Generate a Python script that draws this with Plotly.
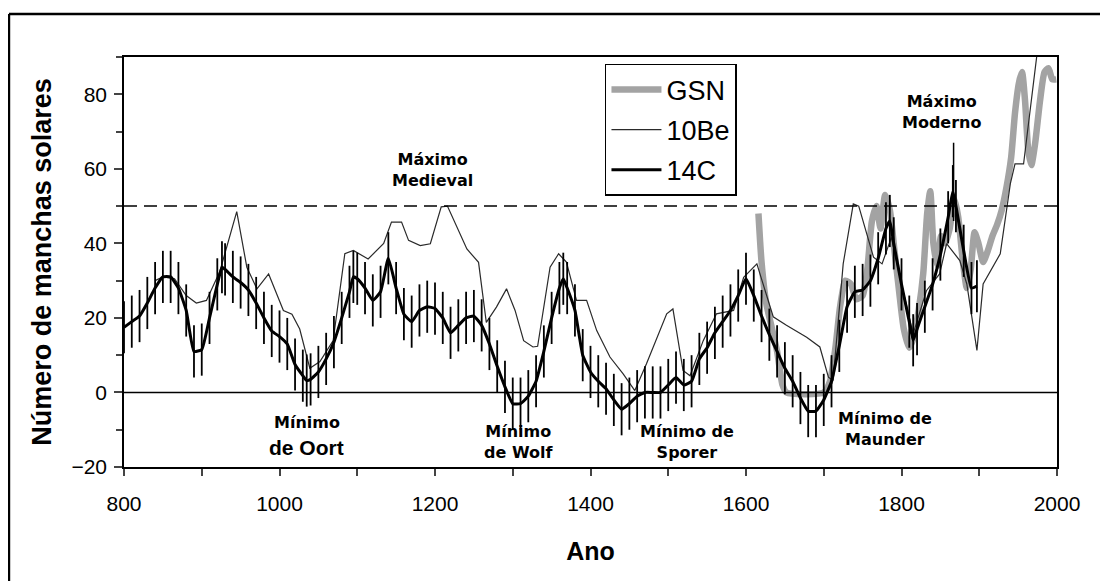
import plotly.graph_objects as go

# ---------------- data ----------------
c14_years = [800, 810, 820, 830, 840, 850, 860, 870, 880, 890, 900, 910, 920, 926, 930, 940, 950, 960, 970, 980,
             990, 1000, 1010, 1020, 1030, 1035, 1040, 1050, 1060, 1070, 1080, 1090, 1095, 1100, 1110, 1120, 1130,
             1140, 1150, 1160, 1170, 1180, 1190, 1200, 1210, 1220, 1230, 1240, 1250, 1260, 1270, 1280, 1290, 1300,
             1310, 1320, 1330, 1340, 1350, 1360, 1365, 1370, 1380, 1390, 1400, 1410, 1420, 1430, 1440, 1450, 1460,
             1470, 1480, 1490, 1500, 1510, 1520, 1530, 1540, 1550, 1560, 1570, 1580, 1590, 1600, 1610, 1620, 1630,
             1640, 1650, 1660, 1670, 1680, 1690, 1700, 1710, 1720, 1730, 1740, 1750, 1760, 1770, 1780, 1785, 1790,
             1800, 1810, 1815, 1820, 1830, 1840, 1850, 1860, 1866, 1870, 1880, 1890, 1897]
c14_values = [17.5, 19, 20.5, 24, 28, 31, 31, 28, 22, 11, 11.5, 20, 29, 33.6, 33, 31, 29.5, 27.5, 24, 20,
              16.5, 15, 13, 7.5, 4.5, 3.2, 3.5, 5.5, 9, 13.5, 20, 27, 31, 30.5, 28, 24.7, 27,
              36, 28, 21, 19, 22, 23, 22.5, 20, 16, 18, 20, 20.5, 18, 13, 7, 1.5, -3,
              -3, -1, 3, 11, 20, 28, 30.5, 28, 22, 10, 5.5, 3, 1, -2, -4.5, -3, -1,
              0, 0, 0, 2, 4, 2, 3, 9, 12, 16, 19, 22, 26, 30.5, 26, 20.5, 15.5,
              11, 6.5, 3, -1.5, -5, -5, -2, 3, 12.5, 23, 27, 27.5, 30, 36, 44, 46, 40,
              29, 19, 14, 17, 23, 29, 37, 47, 54, 50, 38, 28, 28.5]
c14_error = 7

be10_years = [840, 850, 865, 880, 893, 906, 923, 945, 958, 971, 986, 1005, 1016, 1026, 1039, 1052, 1069, 1084,
              1095, 1114, 1134, 1144, 1157, 1166, 1181, 1194, 1208, 1216, 1241, 1256, 1266, 1279, 1292, 1303,
              1314, 1326, 1332, 1348, 1359, 1369, 1382, 1395, 1408, 1425, 1442, 1457, 1472, 1489, 1498, 1506,
              1519, 1528, 1545, 1562, 1584, 1597, 1614, 1635, 1652, 1678, 1695, 1706, 1712, 1725, 1738, 1745,
              1764, 1775, 1787, 1798, 1815, 1832, 1849, 1858, 1875, 1884, 1897, 1905, 1927, 1940, 1946, 1957, 1975]
be10_values = [30, 31, 30.5, 26, 24, 24.7, 32.3, 48.5, 33.6, 27.8, 31.8, 22, 21, 17, 6.5, 8.3, 13.9, 37.2,
               38.1, 35.8, 40, 45.7, 45.7, 40.8, 39.4, 39.9, 49.8, 50, 38.5, 34.9, 18.8, 22.9, 27.8, 22,
               13.9, 12.2, 12.4, 33.6, 37.2, 35, 24.7, 24.7, 16.6, 9.5, 5, 0.5, 7.7, 16.6, 21.1, 22.4,
               5.9, 4.5, 13.9, 21.1, 22, 30.9, 34.5, 20.3, 18, 14.8, 12.2, 4.1, 3.2, 34.5, 50.6, 50,
               36.3, 34.5, 41.6, 30.9, 15.7, 27.3, 31.8, 39.9, 35.4, 29.1, 11.3, 29.1, 37.2, 56, 61.3, 61.3, 92]

gsn_years = [1616, 1620, 1626, 1633, 1640, 1647, 1652, 1700, 1708, 1715, 1721, 1728, 1735, 1742, 1750, 1756,
             1762, 1768, 1773, 1779, 1785, 1791, 1797, 1803, 1810, 1816, 1822, 1828, 1833, 1837, 1841, 1846,
             1851, 1856, 1862, 1868, 1873, 1879, 1884, 1889, 1894, 1899, 1905, 1911, 1917, 1923, 1929, 1935,
             1941, 1946, 1951, 1955, 1959, 1963, 1967, 1972, 1978, 1984, 1989, 1994, 1999]
gsn_values = [48, 35, 24, 17.5, 11, 2, 0, 0, 3, 12, 23, 30, 29, 25, 26, 33,
              46, 50, 44, 53, 49, 38, 27, 17, 12, 15, 22, 32, 48, 54, 40, 34,
              42, 40, 44, 52, 47, 35, 28, 33, 43, 40, 35, 38, 42, 45, 49, 55,
              63, 75, 83, 86, 78, 65, 61, 67, 78, 86, 87, 84, 84]

x_ticks = [800, 1000, 1200, 1400, 1600, 1800, 2000]
y_ticks = [-20, 0, 20, 40, 60, 80]
threshold = 50

# ---------------- figure ----------------
fig = go.Figure()

fig.add_trace(go.Scatter(
    x=gsn_years, y=gsn_values, name="GSN", mode="lines", legendgroup="g1",
    line=dict(color="#a3a3a3", width=6.5, shape="spline", smoothing=0.6),
))
fig.add_trace(go.Scatter(
    x=be10_years, y=be10_values, name="10Be", mode="lines", legendgroup="g2",
    line=dict(color="#2a2a2a", width=1.2),
))
fig.add_trace(go.Scatter(
    x=c14_years, y=c14_values, name="14C", mode="lines", legendgroup="g3",
    line=dict(color="black", width=3, shape="spline", smoothing=0.4),
    error_y=dict(type="constant", value=c14_error, color="black", thickness=1.8, width=0),
))

# reference lines
fig.add_hline(y=0, line=dict(color="black", width=1.5))
fig.add_hline(y=threshold, line=dict(color="black", width=1.5, dash="13px,7px"))
# pointer of "Máximo Moderno"
fig.add_shape(type="line", x0=1867, x1=1867, y0=46, y1=67, line=dict(color="black", width=1.5))

# outer frame (top and left edges visible in reference)
fig.add_shape(type="line", xref="paper", yref="paper", x0=-0.1233, x1=1.2, y0=1.105, y1=1.105,
              line=dict(color="black", width=2.5))
fig.add_shape(type="line", xref="paper", yref="paper", x0=-0.1233, x1=-0.1233, y0=1.105, y1=-0.4,
              line=dict(color="black", width=2.5))

lab_font = dict(family="DejaVu Sans", size=16, color="black")
annots = [
    (1197, 59.8, "<b>Máximo<br>Medieval</b>", lab_font),
    (1852, 75.3, "<b>Máximo<br>Moderno</b>", lab_font),
    (1035, -8.0, "<b>Mínimo</b>", lab_font),
    (1035, -14.8, "<b>de Oort</b>", dict(family="Liberation Sans, Arial", size=21, color="black")),
    (1307, -13.3, "<b>Mínimo<br>de Wolf</b>", lab_font),
    (1524, -13.3, "<b>Mínimo de<br>Sporer</b>", lab_font),
    (1779, -9.8, "<b>Mínimo de<br>Maunder</b>", lab_font),
]
for x, y, t, f in annots:
    fig.add_annotation(x=x, y=y, text=t, showarrow=False, font=f, xanchor="center", yanchor="middle")

fig.update_layout(
    width=1100, height=573,
    margin=dict(l=116, r=51, t=49, b=114),
    paper_bgcolor="white", plot_bgcolor="white",
    showlegend=True,
    legend=dict(x=0.5155, y=0.983, xanchor="left", yanchor="top",
                bordercolor="black", borderwidth=1.5, bgcolor="white",
                font=dict(family="Liberation Sans, Arial", size=27, color="black"),
                itemwidth=50, tracegroupgap=2, traceorder="grouped"),
)
fig.update_xaxes(
    range=[800, 2000], tickvals=x_ticks, ticks="outside", ticklen=7, tickwidth=1.5,
    showline=True, linecolor="black", linewidth=1.5, mirror=True, showgrid=False, zeroline=False,
    minor=dict(dtick=100, tick0=800, ticks="outside", ticklen=7, tickwidth=1.5, showgrid=False),
    tickfont=dict(family="Liberation Sans, Arial", size=21, color="black"),
    ticklabelstandoff=10,
    title=dict(text="<b>Ano</b>", font=dict(family="Liberation Sans, Arial", size=25, color="black"), standoff=29),
)
fig.update_yaxes(
    range=[-20, 90], tickvals=y_ticks, ticks="outside", ticklen=8, tickwidth=1.5,
    showline=True, linecolor="black", linewidth=1.5, mirror=True, showgrid=False, zeroline=False,
    minor=dict(dtick=10, tick0=0, ticks="outside", ticklen=6, tickwidth=1.5, showgrid=False),
    tickfont=dict(family="Liberation Sans, Arial", size=21, color="black"),
    ticklabelstandoff=3,
    title=dict(text="<b>Número de manchas solares</b>", font=dict(family="Liberation Sans, Arial", size=27, color="black"), standoff=12),
)

fig.write_html("out.html")
